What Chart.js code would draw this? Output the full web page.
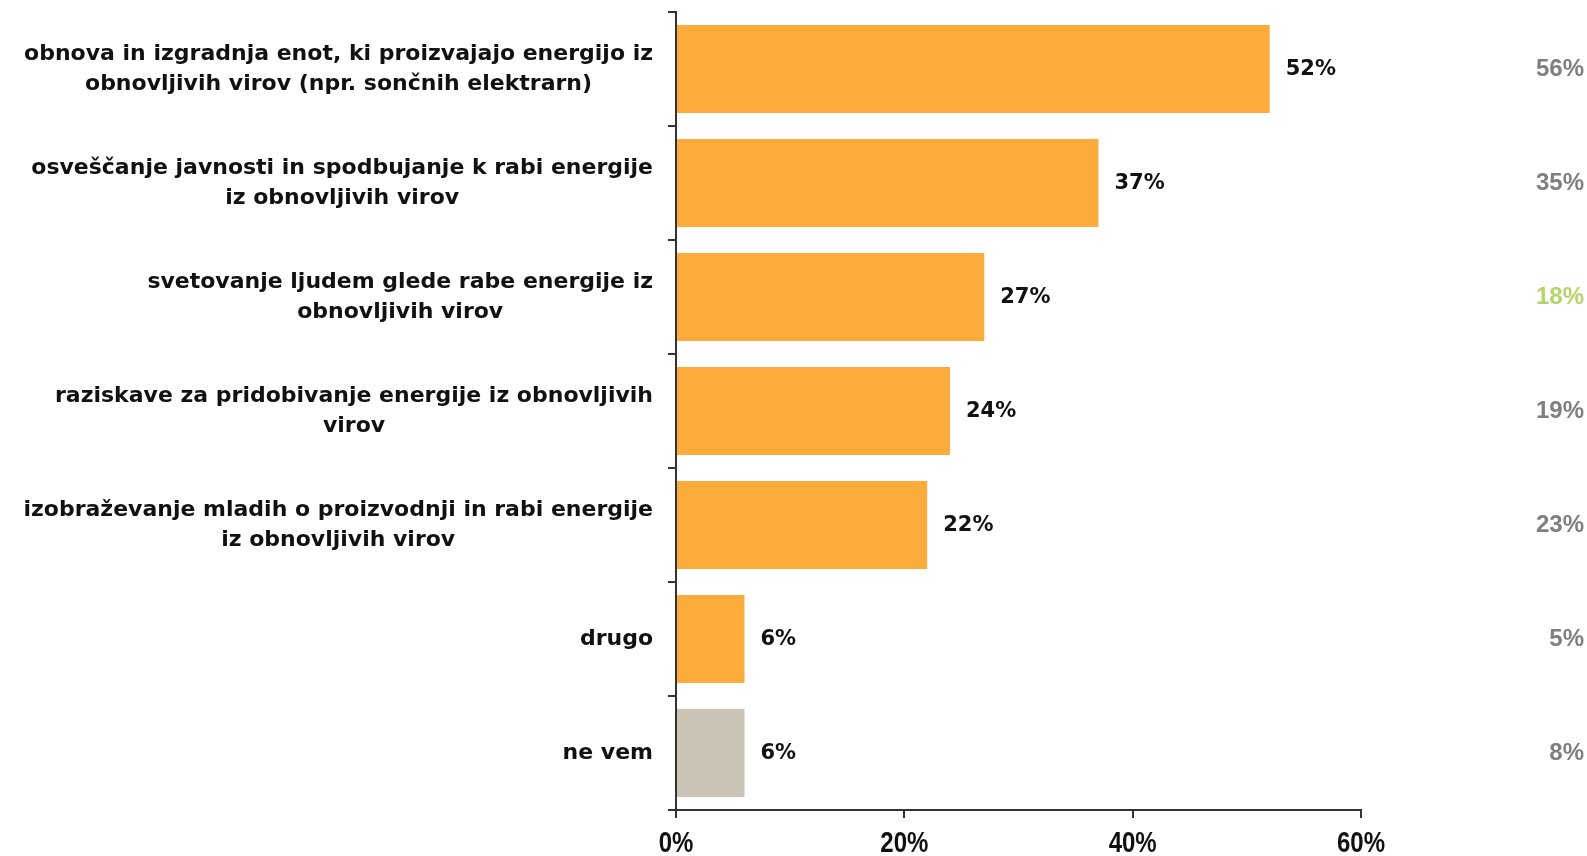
<!DOCTYPE html>
<html>
<head>
<meta charset="utf-8">
<script src="https://cdn.jsdelivr.net/npm/chart.js@4/dist/chart.umd.min.js"></script>
<style>
  html, body { margin: 0; padding: 0; background: #fff; }
  #wrap { width: 1587px; height: 856px; }
</style>
</head>
<body>
<div id="wrap"><canvas id="chart" width="1587" height="856"></canvas></div>
<script>
// answers, each label split into its printed lines
const categories = [
  ["obnova in izgradnja enot, ki proizvajajo energijo iz", "obnovljivih virov (npr. sončnih elektrarn)"],
  ["osveščanje javnosti in spodbujanje k rabi energije", "iz obnovljivih virov"],
  ["svetovanje ljudem glede rabe energije iz", "obnovljivih virov"],
  ["raziskave za pridobivanje energije iz obnovljivih", "virov"],
  ["izobraževanje mladih o proizvodnji in rabi energije", "iz obnovljivih virov"],
  ["drugo"],
  ["ne vem"]
];
const values = [52, 37, 27, 24, 22, 6, 6];
// figures printed in the right-hand column
const compareValues = [56, 35, 18, 19, 23, 5, 8];
const xTicks = [0, 20, 40, 60];

const ORANGE = "#fbac3b";
const BEIGE = "#cbc3b3";
const GREY_TEXT = "#7f7f7f";
const GREEN_TEXT = "#b4d46a";
const AXIS = "#333333";
const SANS = "'Liberation Sans', Arial, sans-serif";
const WIDE = "'DejaVu Sans', Verdana, sans-serif";

const barColors = categories.map(c => (c[0] === "ne vem" ? BEIGE : ORANGE));
const compareColors = compareValues.map((_, i) => (i === 2 ? GREEN_TEXT : GREY_TEXT));

const labelsPlugin = {
  id: "labels",
  afterDraw(chart) {
    const ctx = chart.ctx;
    const meta = chart.getDatasetMeta(0);
    const yScale = chart.scales.y;
    const xScale = chart.scales.x;
    ctx.save();
    ctx.textBaseline = "middle";

    // category labels, lines centred on each other, block right-aligned to the axis
    ctx.font = "bold 22px " + WIDE;
    ctx.fillStyle = "#111";
    ctx.textAlign = "center";
    const right = yScale.right - 23;
    categories.forEach((lines, i) => {
      const y = yScale.getPixelForTick(i);
      const w = Math.max(...lines.map(l => ctx.measureText(l).width));
      const cx = right - w / 2;
      const lh = 30;
      const y0 = y - ((lines.length - 1) * lh) / 2;
      lines.forEach((l, j) => ctx.fillText(l, cx, y0 + j * lh));
    });

    // value at the end of each bar
    ctx.textAlign = "left";
    ctx.font = "bold 21px " + WIDE;
    meta.data.forEach((bar, i) => {
      ctx.fillText(values[i] + "%", bar.x + 16, bar.y + 1);
    });

    // right-hand comparison column
    ctx.textAlign = "right";
    ctx.font = "bold 24px " + SANS;
    meta.data.forEach((bar, i) => {
      ctx.fillStyle = compareColors[i];
      ctx.fillText(compareValues[i] + "%", 1584, bar.y);
    });

    // x tick labels in a tall, narrow face
    ctx.fillStyle = "#111";
    ctx.textAlign = "center";
    ctx.font = "bold 30px " + SANS;
    const squeeze = 0.8;
    xTicks.forEach(v => {
      const x = xScale.getPixelForValue(v);
      ctx.save();
      ctx.translate(x, xScale.top + 34);
      ctx.scale(squeeze, 1);
      ctx.fillText(v + "%", 0, 0);
      ctx.restore();
    });
    ctx.restore();
  }
};

new Chart(document.getElementById("chart"), {
  type: "bar",
  data: {
    labels: categories.map(c => c.join(" ")),
    datasets: [
      {
        data: values,
        backgroundColor: barColors,
        borderWidth: 0,
        barPercentage: 0.77,
        categoryPercentage: 1
      }
    ]
  },
  options: {
    indexAxis: "y",
    responsive: false,
    animation: false,
    layout: { padding: { top: 12, right: 226, left: 0, bottom: 0 } },
    plugins: { legend: { display: false }, tooltip: { enabled: false } },
    scales: {
      y: {
        type: "category",
        afterFit: s => { s.width = 676; },
        ticks: { display: false },
        grid: { drawOnChartArea: false, offset: true, tickLength: 8, color: AXIS, lineWidth: 2 },
        border: { color: AXIS, width: 2 }
      },
      x: {
        min: 0,
        max: 60,
        afterFit: s => { s.height = 46; },
        afterBuildTicks: s => { s.ticks = xTicks.map(v => ({ value: v })); },
        ticks: { display: false },
        grid: { drawOnChartArea: false, tickLength: 8, color: AXIS, lineWidth: 2 },
        border: { color: AXIS, width: 2 }
      }
    }
  },
  plugins: [labelsPlugin]
});
</script>
</body>
</html>
